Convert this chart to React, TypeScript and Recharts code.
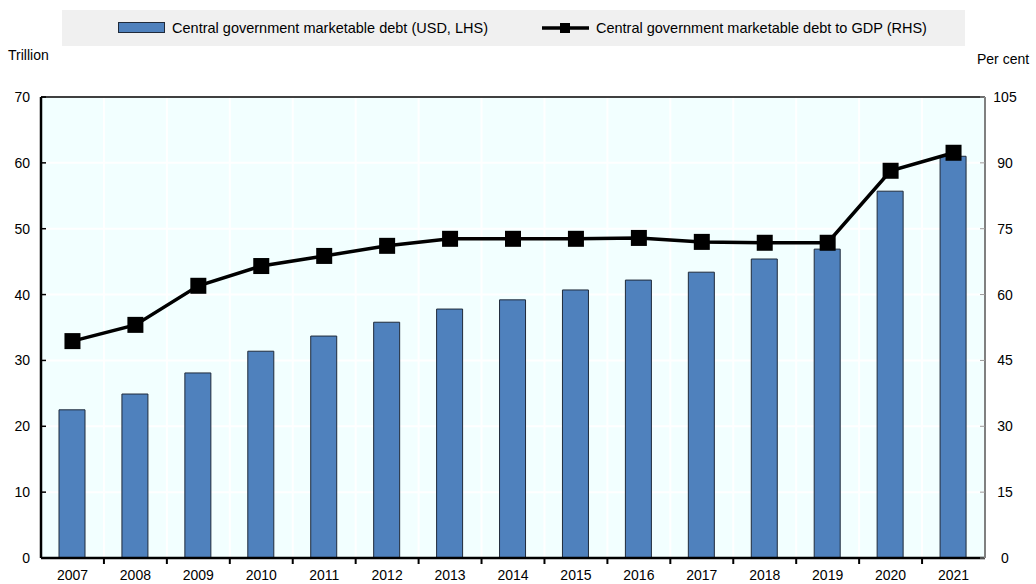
import React from "react";
import {
  Bar,
  CartesianGrid,
  ComposedChart,
  Line,
  ReferenceLine,
  XAxis,
  YAxis,
} from "recharts";

const years = [
  "2007", "2008", "2009", "2010", "2011", "2012", "2013", "2014",
  "2015", "2016", "2017", "2018", "2019", "2020", "2021",
];
const debtUsd = [
  22.5, 24.9, 28.1, 31.4, 33.7, 35.8, 37.8, 39.2, 40.7, 42.2, 43.4, 45.4, 46.9,
  55.7, 61.0,
];
const debtToGdp = [
  49.4, 53.1, 62.0, 66.5, 68.8, 71.1, 72.7, 72.7, 72.7, 72.9, 72.0, 71.8, 71.8,
  88.2, 92.3,
];
const leftTicks = [0, 10, 20, 30, 40, 50, 60, 70];
const rightTicks = [0, 15, 30, 45, 60, 75, 90, 105];

const barLabel = "Central government marketable debt (USD, LHS)";
const lineLabel = "Central government marketable debt to GDP (RHS)";

const rows = years.map((year, i) => ({
  year,
  debt: debtUsd[i],
  ratio: debtToGdp[i],
}));

const FONT = "'Liberation Sans', Arial, sans-serif";
const BAR_FILL = "#4F81BD";

function YearTick(props: any) {
  const { x, y, payload, index } = props;
  const half = payload?.offset ?? 31.5;
  return (
    <g>
      <text
        x={x}
        y={y + 22}
        textAnchor="middle"
        fontSize={14}
        fontFamily={FONT}
        fill="#000"
      >
        {payload.value}
      </text>
      {index > 0 ? (
        <line
          x1={x - half}
          x2={x - half}
          y1={y}
          y2={y + 6}
          stroke="#000"
          strokeWidth={2}
        />
      ) : null}
    </g>
  );
}

function SquareDot(props: any) {
  const { cx, cy } = props;
  if (cx == null || cy == null) return null;
  return <rect x={cx - 8} y={cy - 8} width={16} height={16} fill="#000" />;
}

function LegendBox() {
  return (
    <div
      style={{
        position: "absolute",
        left: 62,
        top: 10,
        width: 903,
        height: 36,
        boxSizing: "border-box",
        paddingLeft: 18,
        background: "#F0F0F0",
        display: "flex",
        alignItems: "center",
        justifyContent: "center",
        fontFamily: FONT,
        fontSize: 14.5,
        color: "#000",
      }}
    >
      <svg width={48} height={12} style={{ marginRight: 6 }}>
        <rect
          x={0.5}
          y={0.5}
          width={46}
          height={10}
          fill={BAR_FILL}
          stroke="#1F2A3A"
          strokeWidth={1}
        />
      </svg>
      <span>{barLabel}</span>
      <svg width={48} height={16} style={{ marginLeft: 54, marginRight: 6 }}>
        <line x1={0} x2={47} y1={8} y2={8} stroke="#000" strokeWidth={3.5} />
        <rect x={18} y={3} width={10} height={10} fill="#000" />
      </svg>
      <span>{lineLabel}</span>
    </div>
  );
}

export default function App() {
  return (
    <div
      style={{
        position: "absolute",
        left: 0,
        top: 0,
        width: 1036,
        height: 584,
        background: "#fff",
        fontFamily: FONT,
      }}
    >
      <ComposedChart
        width={1036}
        height={584}
        data={rows}
        margin={{ top: 97, right: 0, bottom: 0, left: 0 }}
        barSize={26}
      >
        <CartesianGrid
          yAxisId="left"
          fill="#F2FFFF"
          stroke="#FFFFFF"
          strokeWidth={2}
          verticalCoordinatesGenerator={({ offset }: any) =>
            years.slice(1).map((_, i) => offset.left + ((i + 1) * offset.width) / years.length)
          }
        />
        <XAxis
          dataKey="year"
          height={26}
          interval={0}
          tickSize={0}
          tickMargin={0}
          tickLine={false}
          axisLine={{ stroke: "#000", strokeWidth: 2.5 }}
          tick={<YearTick />}
        />
        <YAxis
          yAxisId="left"
          width={41}
          domain={[0, 70]}
          ticks={leftTicks}
          interval={0}
          tickSize={-5}
          tickMargin={16}
          tickLine={{ stroke: "#000", strokeWidth: 1.5 }}
          axisLine={{ stroke: "#000", strokeWidth: 2.5 }}
          tick={{ fill: "#000", fontSize: 14, fontFamily: FONT }}
        />
        <YAxis
          yAxisId="right"
          orientation="right"
          width={51}
          domain={[0, 105]}
          ticks={rightTicks}
          interval={0}
          tickSize={-5}
          tickMargin={25}
          tickLine={{ stroke: "#9A9A9A", strokeWidth: 1 }}
          axisLine={{ stroke: "#808080", strokeWidth: 2 }}
          tick={{
            fill: "#000",
            fontSize: 14,
            fontFamily: FONT,
            textAnchor: "middle",
          }}
        />
        <ReferenceLine
          yAxisId="left"
          y={70}
          stroke="#000"
          strokeWidth={1.5}
          ifOverflow="extendDomain"
        />
        <Bar
          yAxisId="left"
          dataKey="debt"
          name={barLabel}
          fill={BAR_FILL}
          stroke="#1F2A3A"
          strokeWidth={1}
          isAnimationActive={false}
        />
        <Line
          yAxisId="right"
          dataKey="ratio"
          name={lineLabel}
          type="linear"
          stroke="#000"
          strokeWidth={3.5}
          dot={<SquareDot />}
          activeDot={false}
          isAnimationActive={false}
        />
      </ComposedChart>
      <LegendBox />
      <span style={{ position: "absolute", left: 8, top: 47, fontSize: 14 }}>
        Trillion
      </span>
      <span style={{ position: "absolute", left: 977, top: 51, fontSize: 14 }}>
        Per cent
      </span>
    </div>
  );
}
